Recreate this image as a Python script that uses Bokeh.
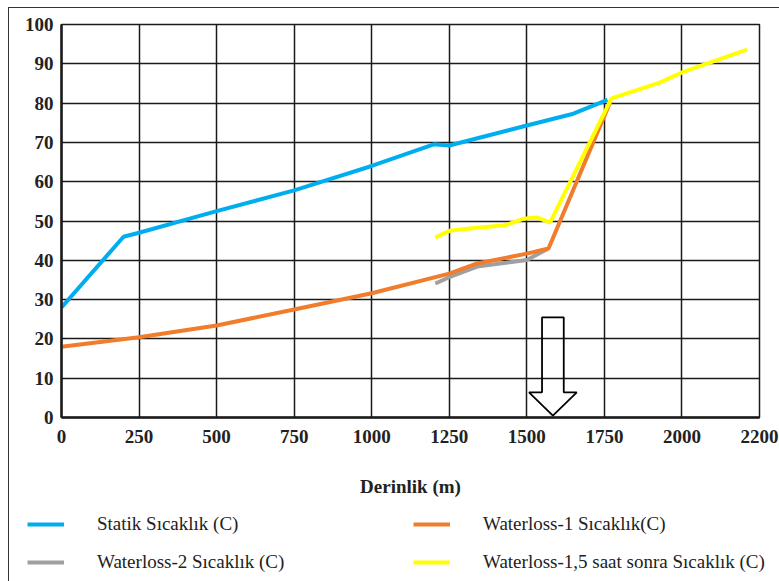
from bokeh.plotting import figure
from bokeh.layouts import column
from bokeh.models import Range1d, FixedTicker, Legend, LegendItem
from bokeh.embed import file_html
from bokeh.resources import INLINE

# ---- data ----
x_tick_values = [0, 250, 500, 750, 1000, 1250, 1500, 1750, 2000, 2250]
x_tick_labels = ["0", "250", "500", "750", "1000", "1250", "1500", "1750", "2000", "2200"]
y_tick_values = [0, 10, 20, 30, 40, 50, 60, 70, 80, 90, 100]

statik_depth = [0, 200, 250, 500, 750, 1000, 1200, 1250, 1500, 1650, 1760]
statik_temp = [28, 46, 47, 52.5, 57.8, 64, 69.5, 69.2, 74.3, 77.3, 80.8]

wl1_depth = [0, 250, 500, 750, 1000, 1250, 1340, 1500, 1570, 1770]
wl1_temp = [18, 20.4, 23.4, 27.5, 31.6, 36.6, 39.2, 41.7, 43, 80.5]

wl2_depth = [1205, 1250, 1340, 1500, 1565]
wl2_temp = [34.1, 35.7, 38.4, 40.1, 42.8]

wl15_depth = [1205, 1250, 1340, 1430, 1490, 1532, 1575, 1773, 1928, 2000, 2210]
wl15_temp = [45.8, 47.5, 48.3, 48.9, 50.6, 50.9, 49.6, 81.2, 85.2, 87.8, 93.6]

labels = ["Statik Sıcaklık (C)", "Waterloss-1 Sıcaklık(C)",
          "Waterloss-2 Sıcaklık (C)", "Waterloss-1,5 saat sonra Sıcaklık (C)"]

# arrow marker (depth / temperature units)
arrow_center = 1584
arrow_top = 25.5
arrow_neck = 6.4
arrow_tip = 0.5
arrow_shaft_half = 35
arrow_head_half = 77

BLUE = "#00AEEF"
ORANGE = "#F07C2C"
GRAY = "#A0A0A0"
YELLOW = "#FFFF00"
INK = "#1a1a1a"
SERIF = "Liberation Serif"

series = [
    (statik_depth, statik_temp, BLUE),
    (wl1_depth, wl1_temp, ORANGE),
    (wl2_depth, wl2_temp, GRAY),
    (wl15_depth, wl15_temp, YELLOW),
]

p = figure(width=770, height=497, output_backend="svg", toolbar_location=None,
           x_range=Range1d(0, 2250), y_range=Range1d(0, 100),
           min_border_left=52, min_border_top=16, min_border_right=20,
           min_border_bottom=88)
p.frame_align = False
p.background_fill_color = "white"
p.border_fill_color = "white"
p.outline_line_color = INK
p.outline_line_width = 1.5

p.xaxis.ticker = FixedTicker(ticks=x_tick_values)
p.xaxis.major_label_overrides = {v: l for v, l in zip(x_tick_values, x_tick_labels)}
p.yaxis.ticker = FixedTicker(ticks=y_tick_values)
p.xgrid.ticker = FixedTicker(ticks=x_tick_values)
p.ygrid.ticker = FixedTicker(ticks=y_tick_values)
for g in (p.xgrid, p.ygrid):
    g.grid_line_color = INK
    g.grid_line_width = 1.5
    g.grid_line_alpha = 1.0

for ax in (p.xaxis, p.yaxis):
    ax.axis_line_color = INK
    ax.axis_line_width = 2.5
    ax.major_tick_line_color = None
    ax.minor_tick_line_color = None
    ax.major_tick_out = 0
    ax.major_tick_in = 0
    ax.minor_tick_out = 0
    ax.minor_tick_in = 0
    ax.major_label_text_font = SERIF
    ax.major_label_text_font_style = "bold"
    ax.major_label_text_font_size = "19px"
    ax.major_label_text_color = "#222222"

p.xaxis.major_label_standoff = 12
p.yaxis.major_label_standoff = 8

p.xaxis.axis_label = "Derinlik (m)"
p.xaxis.axis_label_text_font = SERIF
p.xaxis.axis_label_text_font_style = "bold"
p.xaxis.axis_label_text_font_size = "19px"
p.xaxis.axis_label_text_color = "#222222"
p.xaxis.axis_label_standoff = 30

# draw order: blue, gray, orange, yellow
for idx in (0, 2, 1, 3):
    xs, ys, col = series[idx]
    p.line(xs, ys, line_color=col, line_width=4)

c = arrow_center
ax_ = [c - arrow_shaft_half, c + arrow_shaft_half, c + arrow_shaft_half, c + arrow_head_half,
       c, c - arrow_head_half, c - arrow_shaft_half, c - arrow_shaft_half]
ay_ = [arrow_top, arrow_top, arrow_neck, arrow_neck, arrow_tip, arrow_neck, arrow_neck, arrow_top]
p.patch(ax_, ay_, fill_alpha=0, line_color="black", line_width=1.8)

# ---- legend strip (its lines fall outside its own ranges; only the legend shows) ----
q = figure(width=770, height=76, output_backend="svg", toolbar_location=None,
           x_range=Range1d(0, 1), y_range=Range1d(-2, -1),
           x_axis_type=None, y_axis_type=None,
           min_border_left=0, min_border_right=0, min_border_top=0, min_border_bottom=0)
q.frame_align = False
q.outline_line_color = None
q.background_fill_color = "white"
q.border_fill_color = "white"
lr = [q.line(xs, ys, line_color=col, line_width=4) for xs, ys, col in series]
legend = Legend(items=[LegendItem(label=labels[i], renderers=[lr[i]]) for i in range(4)],
                orientation="horizontal", ncols=2, location=(18, 8))
legend.border_line_color = None
legend.background_fill_alpha = 0
legend.padding = 0
legend.margin = 0
legend.glyph_width = 37
legend.glyph_height = 20
legend.label_standoff = 33
legend.label_width = 300
legend.label_height = 20
legend.spacing = 16
legend.label_text_font = SERIF
legend.label_text_font_size = "19px"
legend.label_text_color = "#222222"
q.add_layout(legend)

layout = column(p, q, spacing=0)
layout.styles = {"margin-left": "8px", "margin-top": "7px",
                 "border-left": "1px solid #333", "border-top": "1px solid #333"}

open("out.html", "w").write(file_html(layout, INLINE))
